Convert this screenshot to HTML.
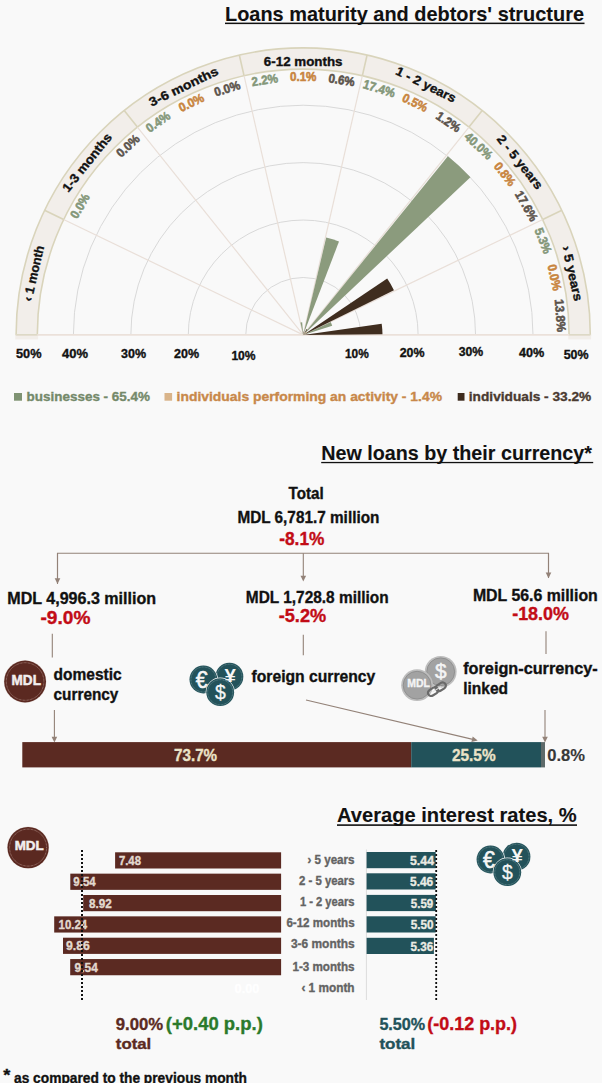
<!DOCTYPE html><html><head><meta charset="utf-8"><style>html,body{margin:0;padding:0;background:#f9f9f9;width:602px;height:1083px;overflow:hidden}</style></head><body><svg width="602" height="1083" viewBox="0 0 602 1083" style="display:block">
<rect width="602" height="1083" fill="#f9f9f9"/>
<g font-family="&quot;Liberation Sans&quot;, sans-serif" font-weight="bold">
<text x="225.00" y="20.90" font-size="20.5" fill="#111" text-anchor="start" textLength="359.00" lengthAdjust="spacingAndGlyphs" stroke="#111" stroke-width="0.1">Loans maturity and debtors' structure</text>
<rect x="225" y="22.6" width="359.5" height="1.5" fill="#111"/>
<path d="M16.10,334.90 A287.1,287.1 0 0 1 590.30,334.90 L569.10,334.90 A265.9,265.9 0 0 0 37.30,334.90 Z" fill="#f2eeea" stroke="#d9d4bb" stroke-width="1.6"/>
<rect x="15.30" y="334.90" width="22.80" height="4.5" fill="#f2eeea"/>
<rect x="568.30" y="334.90" width="22.80" height="4.5" fill="#f2eeea"/>
<path d="M245.75,334.90 A57.45,57.45 0 0 1 360.65,334.90" fill="none" stroke="#d5d5d5" stroke-width="0.9"/>
<path d="M188.30,334.90 A114.90,114.90 0 0 1 418.10,334.90" fill="none" stroke="#d5d5d5" stroke-width="0.9"/>
<path d="M130.85,334.90 A172.35,172.35 0 0 1 475.55,334.90" fill="none" stroke="#d5d5d5" stroke-width="0.9"/>
<path d="M73.40,334.90 A229.80,229.80 0 0 1 533.00,334.90" fill="none" stroke="#d5d5d5" stroke-width="0.9"/>
<line x1="303.20" y1="334.90" x2="542.77" y2="219.53" stroke="#e9dfd8" stroke-width="1.2"/>
<line x1="542.77" y1="219.53" x2="561.87" y2="210.33" stroke="#d9d4bb" stroke-width="1.6"/>
<line x1="303.20" y1="334.90" x2="468.99" y2="127.01" stroke="#e9dfd8" stroke-width="1.2"/>
<line x1="468.99" y1="127.01" x2="482.20" y2="110.44" stroke="#d9d4bb" stroke-width="1.6"/>
<line x1="303.20" y1="334.90" x2="362.37" y2="75.67" stroke="#e9dfd8" stroke-width="1.2"/>
<line x1="362.37" y1="75.67" x2="367.09" y2="55.00" stroke="#d9d4bb" stroke-width="1.6"/>
<line x1="303.20" y1="334.90" x2="244.03" y2="75.67" stroke="#e9dfd8" stroke-width="1.2"/>
<line x1="244.03" y1="75.67" x2="239.31" y2="55.00" stroke="#d9d4bb" stroke-width="1.6"/>
<line x1="303.20" y1="334.90" x2="137.41" y2="127.01" stroke="#e9dfd8" stroke-width="1.2"/>
<line x1="137.41" y1="127.01" x2="124.20" y2="110.44" stroke="#d9d4bb" stroke-width="1.6"/>
<line x1="303.20" y1="334.90" x2="63.63" y2="219.53" stroke="#e9dfd8" stroke-width="1.2"/>
<line x1="63.63" y1="219.53" x2="44.53" y2="210.33" stroke="#d9d4bb" stroke-width="1.6"/>
<line x1="16.10" y1="334.90" x2="590.30" y2="334.90" stroke="#ebe1da" stroke-width="1.8"/>
<line x1="16.10" y1="334.80" x2="37.30" y2="334.80" stroke="#dcd8c4" stroke-width="1.4"/>
<line x1="569.10" y1="334.80" x2="590.30" y2="334.80" stroke="#dcd8c4" stroke-width="1.4"/>
<path d="M303.20,334.90 L382.48,334.28 A79.28,79.28 0 0 0 381.69,323.70 Z" fill="#3f2d1f"/>
<path d="M303.20,334.90 L332.22,325.70 A30.45,30.45 0 0 0 330.74,321.90 Z" fill="#8b9b7d"/>
<path d="M303.20,334.90 L393.95,290.32 A101.11,101.11 0 0 0 387.19,278.60 Z" fill="#3f2d1f"/>
<path d="M303.20,334.90 L306.98,332.28 A4.60,4.60 0 0 0 306.59,331.80 Z" fill="#d9b48a"/>
<path d="M303.20,334.90 L470.42,177.28 A229.80,229.80 0 0 0 447.88,156.37 Z" fill="#8b9b7d"/>
<path d="M303.20,334.90 L307.46,329.48 A6.89,6.89 0 0 0 306.69,328.96 Z" fill="#3f2d1f"/>
<path d="M303.20,334.90 L304.62,332.40 A2.87,2.87 0 0 0 304.27,332.23 Z" fill="#d9b48a"/>
<path d="M303.20,334.90 L338.99,241.56 A99.96,99.96 0 0 0 326.21,237.62 Z" fill="#8b9b7d"/>
<path d="M303.20,334.90 L303.94,331.53 A3.45,3.45 0 0 0 303.48,331.46 Z" fill="#3f2d1f"/>
<path d="M303.20,334.90 L303.24,334.33 A0.57,0.57 0 0 0 303.16,334.33 Z" fill="#d9b48a"/>
<path d="M303.20,334.90 L302.16,322.30 A12.64,12.64 0 0 0 300.48,322.56 Z" fill="#8b9b7d"/>
<path d="M303.20,334.90 L302.04,332.92 A2.30,2.30 0 0 0 301.78,333.09 Z" fill="#8b9b7d"/>
<g transform="translate(303.2,334.9) rotate(77.143) translate(0,-271.80)">
<text x="0.00" y="0.00" font-size="12.6" fill="#111" text-anchor="middle" textLength="56.25" lengthAdjust="spacingAndGlyphs" stroke="#111" stroke-width="0.35">› 5 years</text>
</g>
<g transform="translate(303.2,334.9) rotate(51.429) translate(0,-272.90)">
<text x="0.00" y="0.00" font-size="12.6" fill="#111" text-anchor="middle" textLength="65.35" lengthAdjust="spacingAndGlyphs" stroke="#111" stroke-width="0.35">2 - 5 years</text>
</g>
<g transform="translate(303.2,334.9) rotate(26.114) translate(0,-274.50)">
<text x="0.00" y="0.00" font-size="12.6" fill="#111" text-anchor="middle" textLength="65.35" lengthAdjust="spacingAndGlyphs" stroke="#111" stroke-width="0.35">1 - 2 years</text>
</g>
<g transform="translate(303.2,334.9) rotate(0.000) translate(0,-269.00)">
<text x="0.00" y="0.00" font-size="12.6" fill="#111" text-anchor="middle" textLength="78.67" lengthAdjust="spacingAndGlyphs" stroke="#111" stroke-width="0.35">6-12 months</text>
</g>
<g transform="translate(303.2,334.9) rotate(-25.714) translate(0,-271.30)">
<text x="0.00" y="0.00" font-size="12.6" fill="#111" text-anchor="middle" textLength="75.28" lengthAdjust="spacingAndGlyphs" stroke="#111" stroke-width="0.35">3-6 months</text>
</g>
<g transform="translate(303.2,334.9) rotate(-51.429) translate(0,-272.20)">
<text x="0.00" y="0.00" font-size="12.6" fill="#111" text-anchor="middle" textLength="71.24" lengthAdjust="spacingAndGlyphs" stroke="#111" stroke-width="0.35">1-3 months</text>
</g>
<g transform="translate(303.2,334.9) rotate(-77.143) translate(0,-272.20)">
<text x="0.00" y="0.00" font-size="12.6" fill="#111" text-anchor="middle" textLength="56.70" lengthAdjust="spacingAndGlyphs" stroke="#111" stroke-width="0.35">‹ 1 month</text>
</g>
<g transform="translate(303.2,334.9) rotate(85.714) translate(0,-253.5)">
<text x="0.00" y="0.00" font-size="12.5" fill="#5b534b" text-anchor="middle" textLength="32.96" lengthAdjust="spacingAndGlyphs" stroke="#5b534b" stroke-width="0.55">13.8%</text>
</g>
<g transform="translate(303.2,334.9) rotate(77.143) translate(0,-253.5)">
<text x="0.00" y="0.00" font-size="12.5" fill="#c8853f" text-anchor="middle" textLength="26.50" lengthAdjust="spacingAndGlyphs" stroke="#c8853f" stroke-width="0.55">0.0%</text>
</g>
<g transform="translate(303.2,334.9) rotate(68.571) translate(0,-253.5)">
<text x="0.00" y="0.00" font-size="12.5" fill="#849779" text-anchor="middle" textLength="26.50" lengthAdjust="spacingAndGlyphs" stroke="#849779" stroke-width="0.55">5.3%</text>
</g>
<g transform="translate(303.2,334.9) rotate(60.000) translate(0,-253.5)">
<text x="0.00" y="0.00" font-size="12.5" fill="#5b534b" text-anchor="middle" textLength="32.96" lengthAdjust="spacingAndGlyphs" stroke="#5b534b" stroke-width="0.55">17.6%</text>
</g>
<g transform="translate(303.2,334.9) rotate(51.429) translate(0,-253.5)">
<text x="0.00" y="0.00" font-size="12.5" fill="#c8853f" text-anchor="middle" textLength="26.50" lengthAdjust="spacingAndGlyphs" stroke="#c8853f" stroke-width="0.55">0.8%</text>
</g>
<g transform="translate(303.2,334.9) rotate(42.857) translate(0,-253.5)">
<text x="0.00" y="0.00" font-size="12.5" fill="#849779" text-anchor="middle" textLength="32.96" lengthAdjust="spacingAndGlyphs" stroke="#849779" stroke-width="0.55">40.0%</text>
</g>
<g transform="translate(303.2,334.9) rotate(34.286) translate(0,-253.5)">
<text x="0.00" y="0.00" font-size="12.5" fill="#5b534b" text-anchor="middle" textLength="26.50" lengthAdjust="spacingAndGlyphs" stroke="#5b534b" stroke-width="0.55">1.2%</text>
</g>
<g transform="translate(303.2,334.9) rotate(25.714) translate(0,-253.5)">
<text x="0.00" y="0.00" font-size="12.5" fill="#c8853f" text-anchor="middle" textLength="26.50" lengthAdjust="spacingAndGlyphs" stroke="#c8853f" stroke-width="0.55">0.5%</text>
</g>
<g transform="translate(303.2,334.9) rotate(17.143) translate(0,-253.5)">
<text x="0.00" y="0.00" font-size="12.5" fill="#849779" text-anchor="middle" textLength="32.96" lengthAdjust="spacingAndGlyphs" stroke="#849779" stroke-width="0.55">17.4%</text>
</g>
<g transform="translate(303.2,334.9) rotate(8.571) translate(0,-253.5)">
<text x="0.00" y="0.00" font-size="12.5" fill="#5b534b" text-anchor="middle" textLength="26.50" lengthAdjust="spacingAndGlyphs" stroke="#5b534b" stroke-width="0.55">0.6%</text>
</g>
<g transform="translate(303.2,334.9) rotate(0.000) translate(0,-253.5)">
<text x="0.00" y="0.00" font-size="12.5" fill="#c8853f" text-anchor="middle" textLength="26.50" lengthAdjust="spacingAndGlyphs" stroke="#c8853f" stroke-width="0.55">0.1%</text>
</g>
<g transform="translate(303.2,334.9) rotate(-8.571) translate(0,-253.5)">
<text x="0.00" y="0.00" font-size="12.5" fill="#849779" text-anchor="middle" textLength="26.50" lengthAdjust="spacingAndGlyphs" stroke="#849779" stroke-width="0.55">2.2%</text>
</g>
<g transform="translate(303.2,334.9) rotate(-17.143) translate(0,-253.5)">
<text x="0.00" y="0.00" font-size="12.5" fill="#5b534b" text-anchor="middle" textLength="26.50" lengthAdjust="spacingAndGlyphs" stroke="#5b534b" stroke-width="0.55">0.0%</text>
</g>
<g transform="translate(303.2,334.9) rotate(-25.714) translate(0,-253.5)">
<text x="0.00" y="0.00" font-size="12.5" fill="#c8853f" text-anchor="middle" textLength="26.50" lengthAdjust="spacingAndGlyphs" stroke="#c8853f" stroke-width="0.55">0.0%</text>
</g>
<g transform="translate(303.2,334.9) rotate(-34.286) translate(0,-253.5)">
<text x="0.00" y="0.00" font-size="12.5" fill="#849779" text-anchor="middle" textLength="26.50" lengthAdjust="spacingAndGlyphs" stroke="#849779" stroke-width="0.55">0.4%</text>
</g>
<g transform="translate(303.2,334.9) rotate(-42.857) translate(0,-253.5)">
<text x="0.00" y="0.00" font-size="12.5" fill="#5b534b" text-anchor="middle" textLength="26.50" lengthAdjust="spacingAndGlyphs" stroke="#5b534b" stroke-width="0.55">0.0%</text>
</g>
<g transform="translate(303.2,334.9) rotate(-60.000) translate(0,-253.5)">
<text x="0.00" y="0.00" font-size="12.5" fill="#849779" text-anchor="middle" textLength="26.50" lengthAdjust="spacingAndGlyphs" stroke="#849779" stroke-width="0.55">0.0%</text>
</g>
<text x="16.00" y="358.30" font-size="12.3" fill="#111" text-anchor="start" textLength="25.50" lengthAdjust="spacingAndGlyphs" stroke="#111" stroke-width="0.35">50%</text>
<text x="62.00" y="358.30" font-size="12.3" fill="#111" text-anchor="start" textLength="26.00" lengthAdjust="spacingAndGlyphs" stroke="#111" stroke-width="0.35">40%</text>
<text x="121.00" y="358.30" font-size="12.3" fill="#111" text-anchor="start" textLength="25.00" lengthAdjust="spacingAndGlyphs" stroke="#111" stroke-width="0.35">30%</text>
<text x="174.00" y="357.60" font-size="12.3" fill="#111" text-anchor="start" textLength="25.00" lengthAdjust="spacingAndGlyphs" stroke="#111" stroke-width="0.35">20%</text>
<text x="231.40" y="360.00" font-size="12.3" fill="#111" text-anchor="start" textLength="24.20" lengthAdjust="spacingAndGlyphs" stroke="#111" stroke-width="0.35">10%</text>
<text x="345.00" y="357.90" font-size="12.3" fill="#111" text-anchor="start" textLength="23.80" lengthAdjust="spacingAndGlyphs" stroke="#111" stroke-width="0.35">10%</text>
<text x="399.70" y="356.90" font-size="12.3" fill="#111" text-anchor="start" textLength="24.90" lengthAdjust="spacingAndGlyphs" stroke="#111" stroke-width="0.35">20%</text>
<text x="458.70" y="356.00" font-size="12.3" fill="#111" text-anchor="start" textLength="24.50" lengthAdjust="spacingAndGlyphs" stroke="#111" stroke-width="0.35">30%</text>
<text x="519.00" y="357.00" font-size="12.3" fill="#111" text-anchor="start" textLength="25.30" lengthAdjust="spacingAndGlyphs" stroke="#111" stroke-width="0.35">40%</text>
<text x="563.70" y="358.50" font-size="12.3" fill="#111" text-anchor="start" textLength="24.90" lengthAdjust="spacingAndGlyphs" stroke="#111" stroke-width="0.35">50%</text>
<rect x="14" y="393" width="8" height="7.7" fill="#7f9373"/>
<text x="26.60" y="400.70" font-size="13.4" fill="#74896a" text-anchor="start" textLength="123.40" lengthAdjust="spacingAndGlyphs" stroke="#74896a" stroke-width="0.35">businesses - 65.4%</text>
<rect x="164.5" y="393" width="7.6" height="7.7" fill="#d9b48a"/>
<text x="176.60" y="400.70" font-size="13.4" fill="#c8884a" text-anchor="start" textLength="265.40" lengthAdjust="spacingAndGlyphs" stroke="#c8884a" stroke-width="0.35">individuals performing an activity - 1.4%</text>
<rect x="457.7" y="393" width="6.8" height="7.7" fill="#3e2c1e"/>
<text x="468.80" y="400.70" font-size="13.4" fill="#4a3a30" text-anchor="start" textLength="122.50" lengthAdjust="spacingAndGlyphs" stroke="#4a3a30" stroke-width="0.35">individuals - 33.2%</text>
<text x="321.20" y="460.00" font-size="20" fill="#111" text-anchor="start" textLength="270.80" lengthAdjust="spacingAndGlyphs" stroke="#111" stroke-width="0.1">New loans by their currency*</text>
<rect x="321.2" y="461.9" width="272" height="1.3" fill="#111"/>
<text x="288.50" y="499.10" font-size="16" fill="#111" text-anchor="start" textLength="35.10" lengthAdjust="spacingAndGlyphs" stroke="#111" stroke-width="0.35">Total</text>
<text x="237.40" y="523.00" font-size="16.8" fill="#111" text-anchor="start" textLength="142.00" lengthAdjust="spacingAndGlyphs" stroke="#111" stroke-width="0.35">MDL 6,781.7 million</text>
<text x="279.20" y="545.10" font-size="18" fill="#c20c16" text-anchor="start" textLength="45.20" lengthAdjust="spacingAndGlyphs" stroke="#c20c16" stroke-width="0.35">-8.1%</text>
<path d="M57.5,584 V553.3 H548.5 V578" fill="none" stroke="#938278" stroke-width="1.1"/>
<line x1="57.5" y1="553.3" x2="57.5" y2="579" stroke="#938278" stroke-width="1.1"/>
<path d="M54.70,578.20 L60.30,578.20 L57.5,584 Z" fill="#938278"/>
<line x1="303.3" y1="553.3" x2="303.3" y2="576.5" stroke="#938278" stroke-width="1.1"/>
<path d="M300.50,575.70 L306.10,575.70 L303.3,581.5 Z" fill="#938278"/>
<line x1="548.5" y1="553.3" x2="548.5" y2="573.3" stroke="#938278" stroke-width="1.1"/>
<path d="M545.70,572.50 L551.30,572.50 L548.5,578.3 Z" fill="#938278"/>
<text x="7.30" y="604.10" font-size="17" fill="#111" text-anchor="start" textLength="148.80" lengthAdjust="spacingAndGlyphs" stroke="#111" stroke-width="0.35">MDL 4,996.3 million</text>
<text x="40.50" y="623.70" font-size="18" fill="#c20c16" text-anchor="start" textLength="49.90" lengthAdjust="spacingAndGlyphs" stroke="#c20c16" stroke-width="0.35">-9.0%</text>
<text x="245.80" y="602.50" font-size="17" fill="#111" text-anchor="start" textLength="142.90" lengthAdjust="spacingAndGlyphs" stroke="#111" stroke-width="0.35">MDL 1,728.8 million</text>
<text x="278.70" y="622.10" font-size="18" fill="#c20c16" text-anchor="start" textLength="47.50" lengthAdjust="spacingAndGlyphs" stroke="#c20c16" stroke-width="0.35">-5.2%</text>
<text x="472.90" y="600.90" font-size="17" fill="#111" text-anchor="start" textLength="124.90" lengthAdjust="spacingAndGlyphs" stroke="#111" stroke-width="0.35">MDL 56.6 million</text>
<text x="512.20" y="619.70" font-size="18" fill="#c20c16" text-anchor="start" textLength="56.80" lengthAdjust="spacingAndGlyphs" stroke="#c20c16" stroke-width="0.35">-18.0%</text>
<line x1="52.3" y1="633.7" x2="52.3" y2="657.4" stroke="#938278" stroke-width="1.1"/>
<line x1="303.3" y1="634.7" x2="303.3" y2="655.2" stroke="#938278" stroke-width="1.1"/>
<line x1="546" y1="631.2" x2="546" y2="654" stroke="#938278" stroke-width="1.1"/>
<line x1="54.4" y1="710" x2="54.4" y2="737.6" stroke="#938278" stroke-width="1.1"/>
<path d="M51.60,736.80 L57.20,736.80 L54.4,742.6 Z" fill="#938278"/>
<line x1="545" y1="710" x2="545" y2="737.6" stroke="#938278" stroke-width="1.1"/>
<path d="M542.20,736.80 L547.80,736.80 L545,742.6 Z" fill="#938278"/>
<line x1="306" y1="700" x2="472.83" y2="739.35" stroke="#938278" stroke-width="1.1"/>
<path d="M472.70,736.44 L477.7,740.5 L471.41,741.89 Z" fill="#938278"/>
<text x="53.60" y="679.90" font-size="16" fill="#111" text-anchor="start" textLength="68.00" lengthAdjust="spacingAndGlyphs" stroke="#111" stroke-width="0.35">domestic</text>
<text x="53.60" y="699.50" font-size="16" fill="#111" text-anchor="start" textLength="64.80" lengthAdjust="spacingAndGlyphs" stroke="#111" stroke-width="0.35">currency</text>
<text x="251.50" y="681.80" font-size="16" fill="#111" text-anchor="start" textLength="123.80" lengthAdjust="spacingAndGlyphs" stroke="#111" stroke-width="0.35">foreign currency</text>
<text x="463.20" y="673.50" font-size="16" fill="#111" text-anchor="start" textLength="134.50" lengthAdjust="spacingAndGlyphs" stroke="#111" stroke-width="0.35">foreign-currency-</text>
<text x="463.20" y="693.50" font-size="16" fill="#111" text-anchor="start" textLength="44.80" lengthAdjust="spacingAndGlyphs" stroke="#111" stroke-width="0.35">linked</text>
<circle cx="25.1" cy="681.5" r="21.30" fill="#e2dad6"/>
<circle cx="25.1" cy="681.5" r="20.9" fill="#5b2921"/>
<circle cx="25.1" cy="681.5" r="18.80" fill="none" stroke="#c7aaa2" stroke-width="0.7" stroke-dasharray="0.7,0.7"/>
<text x="11.6" y="685" font-size="14.3" fill="#f2eeee" stroke="#f2eeee" stroke-width="0.5" textLength="29.30" lengthAdjust="spacingAndGlyphs">MDL</text>
<circle cx="229.4" cy="676.7" r="14.60" fill="#f4f6f6"/>
<circle cx="229.4" cy="676.7" r="13.9" fill="#23525a"/>
<circle cx="229.4" cy="676.7" r="12.50" fill="none" stroke="#7fa3a6" stroke-width="0.6" stroke-dasharray="0.9,0.6"/>
<circle cx="203.4" cy="679.5" r="14.60" fill="#f4f6f6"/>
<circle cx="203.4" cy="679.5" r="13.9" fill="#23525a"/>
<circle cx="203.4" cy="679.5" r="12.50" fill="none" stroke="#7fa3a6" stroke-width="0.6" stroke-dasharray="0.9,0.6"/>
<circle cx="220.2" cy="692.2" r="14.60" fill="#f4f6f6"/>
<circle cx="220.2" cy="692.2" r="13.9" fill="#23525a"/>
<circle cx="220.2" cy="692.2" r="12.50" fill="none" stroke="#7fa3a6" stroke-width="0.6" stroke-dasharray="0.9,0.6"/>
<text x="195.80" y="687.90" font-size="23.5" fill="#f6f6f6" font-weight="normal" stroke="#f6f6f6" stroke-width="0.6" textLength="11.8" lengthAdjust="spacingAndGlyphs">€</text>
<text x="224.40" y="682.20" font-size="18.4" fill="#f6f6f6" textLength="11.4" lengthAdjust="spacingAndGlyphs">¥</text>
<text x="215.00" y="699.30" font-size="21" fill="#f6f6f6" font-weight="normal" stroke="#f6f6f6" stroke-width="0.3" textLength="10.8" lengthAdjust="spacingAndGlyphs">$</text>
<circle cx="440.7" cy="671.8" r="15.9" fill="#bdbdbd"/>
<circle cx="440.7" cy="671.8" r="13.9" fill="#a2a2a2" stroke="#8c8c8c" stroke-width="0.9"/>
<circle cx="417.1" cy="685.2" r="15.9" fill="#bdbdbd"/>
<circle cx="417.1" cy="685.2" r="13.9" fill="#a2a2a2" stroke="#8c8c8c" stroke-width="0.9"/>
<text x="407.2" y="687.4" font-size="10" fill="#f4f4f4" stroke="#f4f4f4" stroke-width="0.35" textLength="22.7" lengthAdjust="spacingAndGlyphs">MDL</text>
<text x="435.1" y="678.2" font-size="20.5" fill="#f4f4f4" stroke="#f4f4f4" stroke-width="0.5" textLength="11.6" lengthAdjust="spacingAndGlyphs" font-weight="normal">$</text>
<g transform="translate(436.9,689.2) rotate(-32)"><rect x="-10" y="-3.2" width="11" height="6.4" rx="3.2" fill="none" stroke="#6a6a6a" stroke-width="2.2"/><rect x="-1" y="-3.2" width="11" height="6.4" rx="3.2" fill="none" stroke="#6a6a6a" stroke-width="2.2"/><line x1="-5" y1="0" x2="5" y2="0" stroke="#e8e8e8" stroke-width="1"/></g>
<rect x="22.3" y="742.1" width="388.9" height="25.3" fill="#5b2a22"/>
<rect x="411.2" y="742.1" width="129.8" height="25.3" fill="#22525a"/>
<rect x="541" y="742.1" width="4" height="25.3" fill="#5e6a6a"/>
<text x="174.00" y="760.60" font-size="16.8" fill="#ebe3c8" text-anchor="start" textLength="43.10" lengthAdjust="spacingAndGlyphs" stroke="#ebe3c8" stroke-width="0.35">73.7%</text>
<text x="452.00" y="760.60" font-size="16.8" fill="#ebe3c8" text-anchor="start" textLength="43.60" lengthAdjust="spacingAndGlyphs" stroke="#ebe3c8" stroke-width="0.35">25.5%</text>
<text x="547.20" y="761.00" font-size="17.2" fill="#383838" text-anchor="start" textLength="37.80" lengthAdjust="spacingAndGlyphs" stroke="#383838" stroke-width="0.15">0.8%</text>
<text x="337.00" y="822.30" font-size="19.5" fill="#111" text-anchor="start" textLength="239.70" lengthAdjust="spacingAndGlyphs" stroke="#111" stroke-width="0.1">Average interest rates, %</text>
<rect x="337" y="824.3" width="240" height="1.6" fill="#111"/>
<circle cx="28.1" cy="847.6" r="21.00" fill="#e2dad6"/>
<circle cx="28.1" cy="847.6" r="20.6" fill="#5b2921"/>
<circle cx="28.1" cy="847.6" r="18.50" fill="none" stroke="#c7aaa2" stroke-width="0.7" stroke-dasharray="0.7,0.7"/>
<text x="14.7" y="850.4" font-size="12.2" fill="#f2eeee" stroke="#f2eeee" stroke-width="0.5" textLength="29.00" lengthAdjust="spacingAndGlyphs">MDL</text>
<circle cx="516.5" cy="856.7" r="14.60" fill="#f4f6f6"/>
<circle cx="516.5" cy="856.7" r="13.9" fill="#23525a"/>
<circle cx="516.5" cy="856.7" r="12.50" fill="none" stroke="#7fa3a6" stroke-width="0.6" stroke-dasharray="0.9,0.6"/>
<circle cx="490.5" cy="859.5" r="14.60" fill="#f4f6f6"/>
<circle cx="490.5" cy="859.5" r="13.9" fill="#23525a"/>
<circle cx="490.5" cy="859.5" r="12.50" fill="none" stroke="#7fa3a6" stroke-width="0.6" stroke-dasharray="0.9,0.6"/>
<circle cx="507.3" cy="872.2" r="14.60" fill="#f4f6f6"/>
<circle cx="507.3" cy="872.2" r="13.9" fill="#23525a"/>
<circle cx="507.3" cy="872.2" r="12.50" fill="none" stroke="#7fa3a6" stroke-width="0.6" stroke-dasharray="0.9,0.6"/>
<text x="482.90" y="867.90" font-size="23.5" fill="#f6f6f6" font-weight="normal" stroke="#f6f6f6" stroke-width="0.6" textLength="11.8" lengthAdjust="spacingAndGlyphs">€</text>
<text x="511.50" y="862.20" font-size="18.4" fill="#f6f6f6" textLength="11.4" lengthAdjust="spacingAndGlyphs">¥</text>
<text x="502.10" y="879.30" font-size="21" fill="#f6f6f6" font-weight="normal" stroke="#f6f6f6" stroke-width="0.3" textLength="10.8" lengthAdjust="spacingAndGlyphs">$</text>
<rect x="115.1" y="852.3" width="166.00" height="16.2" fill="#5b2a22"/>
<text x="118.90" y="865.00" font-size="12.5" fill="#e2d9cf" text-anchor="start" textLength="22.10" lengthAdjust="spacingAndGlyphs" stroke="#e2d9cf" stroke-width="0.35">7.48</text>
<rect x="70.3" y="873.65" width="210.80" height="16.2" fill="#5b2a22"/>
<text x="73.30" y="886.35" font-size="12.5" fill="#e2d9cf" text-anchor="start" textLength="22.40" lengthAdjust="spacingAndGlyphs" stroke="#e2d9cf" stroke-width="0.35">9.54</text>
<rect x="83.2" y="895.0" width="197.90" height="16.2" fill="#5b2a22"/>
<text x="89.00" y="907.70" font-size="12.5" fill="#e2d9cf" text-anchor="start" textLength="22.80" lengthAdjust="spacingAndGlyphs" stroke="#e2d9cf" stroke-width="0.35">8.92</text>
<rect x="54.2" y="916.35" width="226.90" height="16.2" fill="#5b2a22"/>
<text x="58.60" y="929.05" font-size="12.5" fill="#e2d9cf" text-anchor="start" textLength="28.60" lengthAdjust="spacingAndGlyphs" stroke="#e2d9cf" stroke-width="0.35">10.24</text>
<rect x="63" y="937.7" width="218.10" height="16.2" fill="#5b2a22"/>
<text x="65.90" y="950.40" font-size="12.5" fill="#e2d9cf" text-anchor="start" textLength="23.90" lengthAdjust="spacingAndGlyphs" stroke="#e2d9cf" stroke-width="0.35">9.86</text>
<rect x="70.2" y="959.05" width="210.90" height="16.2" fill="#5b2a22"/>
<text x="74.60" y="971.75" font-size="12.5" fill="#e2d9cf" text-anchor="start" textLength="23.20" lengthAdjust="spacingAndGlyphs" stroke="#e2d9cf" stroke-width="0.35">9.54</text>
<line x1="366.4" y1="849.5" x2="366.4" y2="1000" stroke="#dcdcdc" stroke-width="1"/>
<text x="307.40" y="864.00" font-size="12.3" fill="#636363" text-anchor="start" textLength="47.20" lengthAdjust="spacingAndGlyphs" stroke="#636363" stroke-width="0.35">› 5 years</text>
<text x="299.00" y="884.90" font-size="12.3" fill="#636363" text-anchor="start" textLength="55.60" lengthAdjust="spacingAndGlyphs" stroke="#636363" stroke-width="0.35">2 - 5 years</text>
<text x="299.90" y="906.40" font-size="12.3" fill="#636363" text-anchor="start" textLength="54.70" lengthAdjust="spacingAndGlyphs" stroke="#636363" stroke-width="0.35">1 - 2 years</text>
<text x="286.40" y="927.30" font-size="12.3" fill="#636363" text-anchor="start" textLength="68.20" lengthAdjust="spacingAndGlyphs" stroke="#636363" stroke-width="0.35">6-12 months</text>
<text x="290.90" y="948.30" font-size="12.3" fill="#636363" text-anchor="start" textLength="63.70" lengthAdjust="spacingAndGlyphs" stroke="#636363" stroke-width="0.35">3-6 months</text>
<text x="292.40" y="970.70" font-size="12.3" fill="#636363" text-anchor="start" textLength="62.20" lengthAdjust="spacingAndGlyphs" stroke="#636363" stroke-width="0.35">1-3 months</text>
<text x="301.40" y="991.60" font-size="12.3" fill="#636363" text-anchor="start" textLength="53.20" lengthAdjust="spacingAndGlyphs" stroke="#636363" stroke-width="0.35">‹ 1 month</text>
<rect x="366.6" y="852.0" width="69.10" height="16.2" fill="#22525a"/>
<text x="410.00" y="865.10" font-size="12.5" fill="#ebebe3" text-anchor="start" textLength="24.00" lengthAdjust="spacingAndGlyphs" stroke="#ebebe3" stroke-width="0.35">5.44</text>
<rect x="366.6" y="873.3" width="69.10" height="16.2" fill="#22525a"/>
<text x="410.00" y="886.40" font-size="12.5" fill="#ebebe3" text-anchor="start" textLength="23.20" lengthAdjust="spacingAndGlyphs" stroke="#ebebe3" stroke-width="0.35">5.46</text>
<rect x="366.6" y="894.9" width="69.30" height="16.2" fill="#22525a"/>
<text x="410.80" y="908.00" font-size="12.5" fill="#ebebe3" text-anchor="start" textLength="22.40" lengthAdjust="spacingAndGlyphs" stroke="#ebebe3" stroke-width="0.35">5.59</text>
<rect x="366.6" y="916.3" width="69.10" height="16.2" fill="#22525a"/>
<text x="410.80" y="929.40" font-size="12.5" fill="#ebebe3" text-anchor="start" textLength="22.80" lengthAdjust="spacingAndGlyphs" stroke="#ebebe3" stroke-width="0.35">5.50</text>
<rect x="366.6" y="937.8" width="67.30" height="16.2" fill="#22525a"/>
<text x="410.50" y="950.90" font-size="12.5" fill="#ebebe3" text-anchor="start" textLength="22.70" lengthAdjust="spacingAndGlyphs" stroke="#ebebe3" stroke-width="0.35">5.36</text>
<line x1="82" y1="850" x2="82" y2="1000" stroke="#111" stroke-width="2" stroke-dasharray="2,2"/>
<line x1="436.2" y1="850" x2="436.2" y2="1000" stroke="#111" stroke-width="1.8" stroke-dasharray="2,2"/>
<text x="234.60" y="993.00" font-size="13" fill="#ffffff" text-anchor="start" textLength="24.80" lengthAdjust="spacingAndGlyphs" stroke="#ffffff" stroke-width="0.35">0.00</text>
<text x="115.80" y="1030.20" font-size="17" fill="#5b2a22" text-anchor="start" textLength="47.40" lengthAdjust="spacingAndGlyphs" stroke="#5b2a22" stroke-width="0.35">9.00%</text>
<text x="165.80" y="1030.20" font-size="18.5" fill="#2b7a2b" text-anchor="start" textLength="97.00" lengthAdjust="spacingAndGlyphs" stroke="#2b7a2b" stroke-width="0.35">(+0.40 p.p.)</text>
<text x="115.80" y="1048.90" font-size="15.5" fill="#5b2a22" text-anchor="start" textLength="35.40" lengthAdjust="spacingAndGlyphs" stroke="#5b2a22" stroke-width="0.35">total</text>
<text x="379.40" y="1029.90" font-size="17" fill="#22525a" text-anchor="start" textLength="45.80" lengthAdjust="spacingAndGlyphs" stroke="#22525a" stroke-width="0.35">5.50%</text>
<text x="427.30" y="1029.90" font-size="18.5" fill="#c20c16" text-anchor="start" textLength="89.70" lengthAdjust="spacingAndGlyphs" stroke="#c20c16" stroke-width="0.35">(-0.12 p.p.)</text>
<text x="379.40" y="1049.00" font-size="15.5" fill="#22525a" text-anchor="start" textLength="35.90" lengthAdjust="spacingAndGlyphs" stroke="#22525a" stroke-width="0.35">total</text>
<text x="3.30" y="1081.00" font-size="16" fill="#111" text-anchor="start" textLength="7.10" lengthAdjust="spacingAndGlyphs" stroke="#111" stroke-width="0.35">*</text>
<text x="14.00" y="1083.30" font-size="15" fill="#111" text-anchor="start" textLength="233.00" lengthAdjust="spacingAndGlyphs" stroke="#111" stroke-width="0.35">as compared to the previous month</text>
</g></svg></body></html>
